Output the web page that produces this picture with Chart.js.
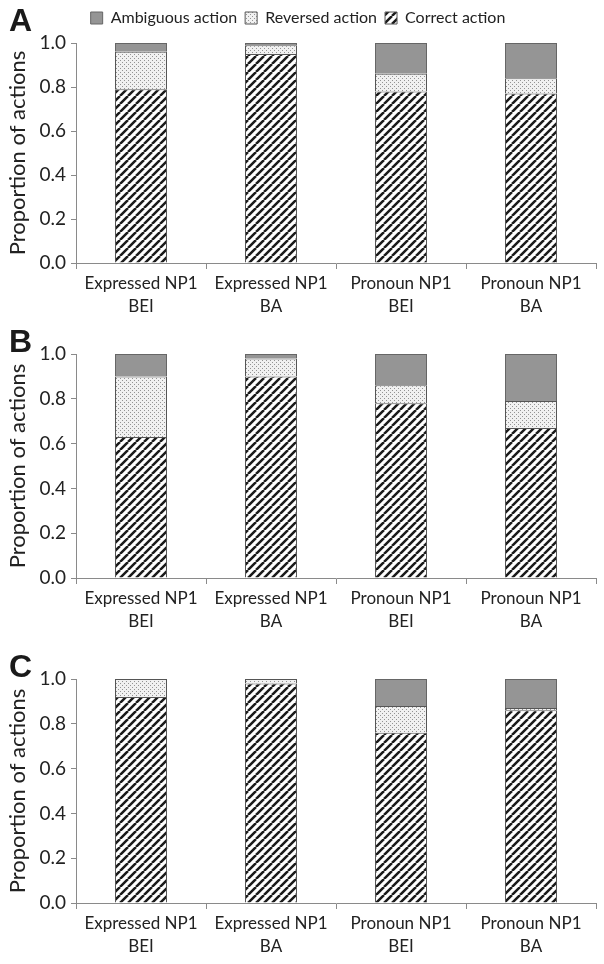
<!DOCTYPE html>
<html>
<head>
<meta charset="utf-8">
<script src="https://cdn.jsdelivr.net/npm/chart.js@4.4.1/dist/chart.umd.min.js"></script>
<style>
  html, body { margin: 0; padding: 0; background: #fff; }
  #wrap { position: relative; width: 604px; height: 964px; overflow: hidden; }
  .panel { position: absolute; left: 0; width: 604px; }
  .letter { position: absolute; left: 9px; font: bold 32px "Liberation Sans", Arial, sans-serif; line-height: 32px; color: #1a1a1a; }
</style>
</head>
<body>
<div id="wrap">
  <div class="panel" style="top:0;height:323px"><canvas id="chart-a"></canvas></div>
  <div class="panel" style="top:330px;height:308px"><canvas id="chart-b"></canvas></div>
  <div class="panel" style="top:655px;height:308px"><canvas id="chart-c"></canvas></div>
  <div class="letter" style="top:4px">A</div>
  <div class="letter" style="top:325px">B</div>
  <div class="letter" style="top:650px">C</div>
</div>
<script>
"use strict";

// categories and series values (proportions)
const categories = [
  ["Expressed NP1", "BEI"],
  ["Expressed NP1", "BA"],
  ["Pronoun NP1", "BEI"],
  ["Pronoun NP1", "BA"],
];
const seriesNames = ["Correct action", "Reversed action", "Ambiguous action"];
const yTicks = [0, 0.2, 0.4, 0.6, 0.8, 1.0];

const correctA   = [0.79, 0.95, 0.78, 0.77];
const reversedA  = [0.17, 0.04, 0.08, 0.07];
const ambiguousA = [0.04, 0.01, 0.14, 0.16];

const correctB   = [0.63, 0.90, 0.78, 0.67];
const reversedB  = [0.27, 0.08, 0.08, 0.12];
const ambiguousB = [0.10, 0.02, 0.14, 0.21];

const correctC   = [0.92, 0.98, 0.76, 0.86];
const reversedC  = [0.08, 0.02, 0.12, 0.01];
const ambiguousC = [0.00, 0.00, 0.12, 0.13];

/* ==========================================================
   fill patterns
   ========================================================== */
function stripePattern(ctx) {
  const s = 8;
  const c = document.createElement("canvas");
  c.width = s; c.height = s;
  const g = c.getContext("2d");
  g.fillStyle = "#fff";
  g.fillRect(0, 0, s, s);
  g.strokeStyle = "#1a1a1a";
  g.lineWidth = 2.5;
  g.beginPath();
  for (const o of [-s, 0, s]) { g.moveTo(o, s); g.lineTo(o + s, 0); }
  g.stroke();
  return ctx.createPattern(c, "repeat");
}

function dotPattern(ctx) {
  const s = 4;
  const c = document.createElement("canvas");
  c.width = s; c.height = s;
  const g = c.getContext("2d");
  g.fillStyle = "#f1f1f1";
  g.fillRect(0, 0, s, s);
  g.fillStyle = "#949494";
  g.fillRect(0, 0, 1, 1);
  g.fillRect(2, 2, 1, 1);
  return ctx.createPattern(c, "repeat");
}

const FONT = "Lato, 'Liberation Sans', sans-serif";
const INK = "#222";
const AXIS = "#8a8a8a";

// a bit more room under the legend, so the plot top lines up with panel A
const legendGap = {
  id: "legendGap",
  beforeLayout(chart) {
    const lg = chart.legend;
    if (!lg || lg._gapPatched) return;
    const fit = lg.fit;
    lg.fit = function () { fit.call(this); this.height += 7; };
    lg._gapPatched = true;
  },
};

function renderPanel(id, correct, reversed, ambiguous, withLegend) {
  const el = document.getElementById(id);
  const ctx = el.getContext("2d");

  const stripes = stripePattern(ctx);
  const dots = dotPattern(ctx);

  return new Chart(el, {
    type: "bar",
    data: {
      labels: categories,
      datasets: [
        { label: seriesNames[0], data: correct, backgroundColor: stripes, borderColor: "#555", borderWidth: 1 },
        { label: seriesNames[1], data: reversed, backgroundColor: dots, borderColor: "#555", borderWidth: 1 },
        { label: seriesNames[2], data: ambiguous, backgroundColor: "#959595", borderColor: "#666", borderWidth: 1 },
      ],
    },
    plugins: withLegend ? [legendGap] : [],
    options: {
      responsive: true,
      maintainAspectRatio: false,
      animation: false,
      layout: { padding: { top: withLegend ? 2 : 24, right: 8, left: 0, bottom: 0 } },
      datasets: { bar: { categoryPercentage: 0.8, barPercentage: 0.5 } },
      plugins: {
        legend: {
          display: withLegend,
          reverse: true,
          labels: {
            boxWidth: 12,
            boxHeight: 12,
            padding: 8,
            color: INK,
            font: { family: FONT, size: 16 },
          },
        },
        tooltip: { enabled: false },
      },
      scales: {
        x: {
          stacked: true,
          afterFit: (scale) => { scale.height = 60; },
          grid: { drawOnChartArea: false, offset: true, tickLength: 6, color: AXIS },
          border: { color: AXIS, width: 1 },
          ticks: {
            color: INK,
            font: { family: FONT, size: 17, lineHeight: 1.35 },
            padding: 3,
            maxRotation: 0,
            autoSkip: false,
          },
        },
        y: {
          stacked: true,
          min: 0,
          max: 1,
          afterFit: (scale) => { scale.width = 76; },
          afterBuildTicks: (scale) => { scale.ticks = yTicks.map(v => ({ value: v })); },
          grid: { drawOnChartArea: false, tickLength: 5, color: AXIS },
          border: { color: AXIS, width: 1 },
          ticks: {
            color: INK,
            font: { family: FONT, size: 19 },
            padding: 5,
            callback: (v) => Number(v).toFixed(1),
          },
          title: {
            display: true,
            text: "Proportion of actions",
            color: INK,
            font: { family: FONT, size: 22 },
            padding: { top: 5, bottom: 0 },
          },
        },
      },
    },
  });
}

renderPanel("chart-a", correctA, reversedA, ambiguousA, true);
renderPanel("chart-b", correctB, reversedB, ambiguousB, false);
renderPanel("chart-c", correctC, reversedC, ambiguousC, false);
</script>
</body>
</html>
